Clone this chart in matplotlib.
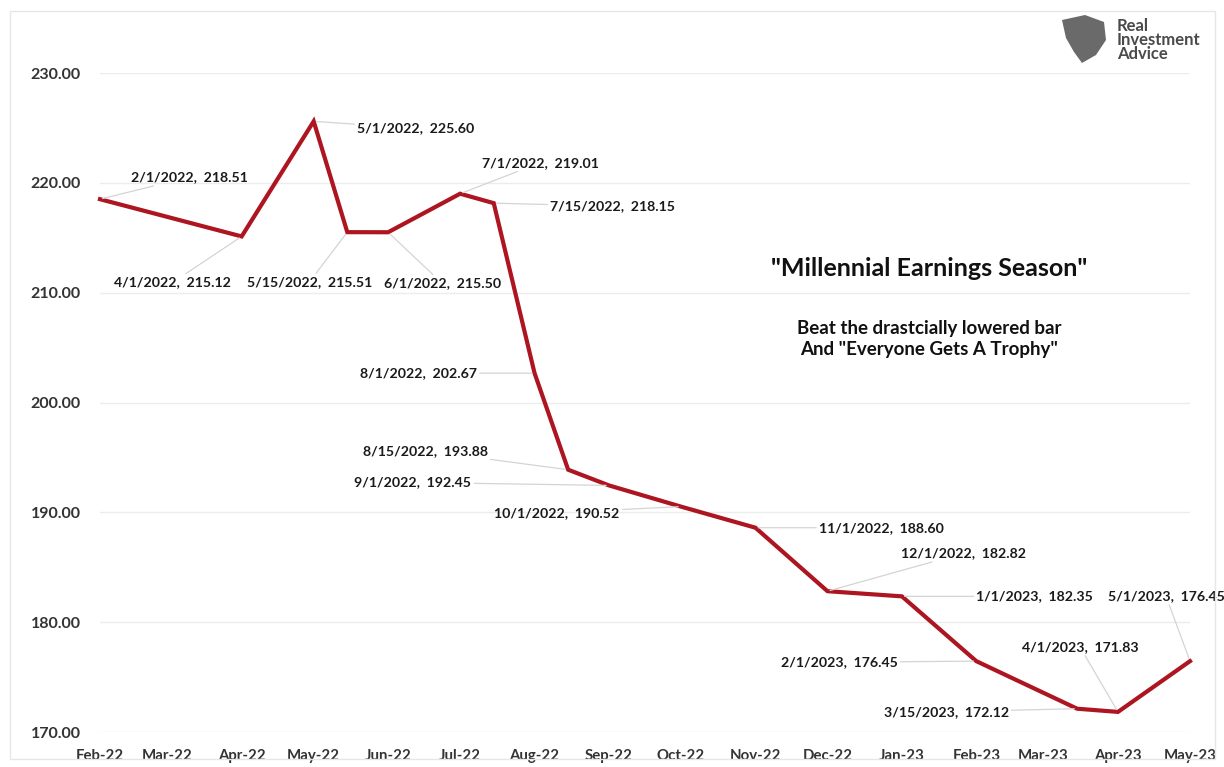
import matplotlib.pyplot as plt
import matplotlib.dates as mdates
import pandas as pd
from matplotlib.patches import Rectangle, Polygon

dates = ["2022-02-01", "2022-04-01", "2022-05-01", "2022-05-15", "2022-06-01",
         "2022-07-01", "2022-07-15", "2022-08-01", "2022-08-15", "2022-09-01",
         "2022-10-01", "2022-11-01", "2022-12-01", "2023-01-01", "2023-02-01",
         "2023-03-15", "2023-04-01", "2023-05-01"]
values = [218.51, 215.12, 225.60, 215.51, 215.50, 219.01, 218.15, 202.67, 193.88,
          192.45, 190.52, 188.60, 182.82, 182.35, 176.45, 172.12, 171.83, 176.45]
# where each data label sits relative to its point (pixels)
label_offsets = [(89, 22), (-69, -46), (102, -7), (-38, -50), (54, -51), (80, 31),
                 (119, -3), (-116, 0), (-143, 19), (-196, 3), (-124, -6), (126, 0),
                 (136, 38), (133, 0), (-137, -1), (-131, -3), (-38, 65), (-24, 65)]

x = pd.to_datetime(dates)
plt.rcParams['font.family'] = ['Lato', 'DejaVu Sans']

fig = plt.figure(figsize=(12.24, 7.67), dpi=100)
ax = fig.add_axes([100 / 1224, 35 / 767, 1090 / 1224, 659 / 767])

ax.plot(x, values, color='#ad1520', linewidth=3, clip_on=False,
        solid_joinstyle='miter', zorder=3)

for d, v, off in zip(x, values, label_offsets):
    lbl = f"{d.month}/{d.day}/{d.year},  {v:.2f}"
    ax.annotate(lbl, (d, v), xytext=off, textcoords='offset pixels',
                ha='center', va='center', fontsize=10.2, fontweight='bold',
                color='#1a1a1a', annotation_clip=False,
                arrowprops=dict(arrowstyle='-', color='#d4d4d4', lw=0.9,
                                shrinkA=0, shrinkB=2))

ax.set_ylim(170, 230)
ax.set_yticks(range(170, 231, 10))
ax.yaxis.set_major_formatter(plt.FuncFormatter(lambda v, p: f"{v:.2f}"))
ax.set_xlim(pd.Timestamp("2022-02-01"), pd.Timestamp("2023-05-01"))
ax.xaxis.set_major_locator(mdates.MonthLocator())
ax.xaxis.set_major_formatter(mdates.DateFormatter('%b-%y'))
ax.grid(axis='y', color='#ececec', linewidth=1)
ax.set_axisbelow(True)
for s in ax.spines.values():
    s.set_visible(False)
ax.tick_params(length=0, colors='#333333')
ax.tick_params(axis='x', pad=12, labelsize=10.8)
ax.tick_params(axis='y', pad=14, labelsize=11.5)
for t in ax.get_xticklabels() + ax.get_yticklabels():
    t.set_fontweight('bold')

fig.text(929 / 1224, 1 - 268 / 767, '"Millennial Earnings Season"', ha='center',
         va='center', fontsize=18, fontweight='bold', color='#111111')
fig.text(929 / 1224, 1 - 339 / 767, 'Beat the drastcially lowered bar\nAnd "Everyone Gets A Trophy"',
         ha='center', va='center', fontsize=13.5, fontweight='bold',
         color='#111111', linespacing=1.25)

# outer chart border
fig.patches.append(Rectangle((10 / 1224, 8 / 767), 1205 / 1224, 748 / 767,
                             transform=fig.transFigure, fill=False,
                             edgecolor='#e6e6e6', linewidth=1))

# logo
shield = [(1062, 20), (1085, 15), (1104, 22), (1106, 40), (1096, 55), (1082, 63),
          (1074, 52), (1066, 38)]
fig.patches.append(Polygon([[px / 1224, 1 - py / 767] for px, py in shield],
                           closed=True, transform=fig.transFigure,
                           facecolor='#6a6a6a', edgecolor='none'))
fig.text(1117 / 1224, 1 - 40 / 767, "Real\nInvestment\nAdvice", ha='left', va='center',
         fontsize=12, fontweight='bold', color='#4a4a4a', linespacing=0.85)

fig.savefig('out.png', dpi=100)
